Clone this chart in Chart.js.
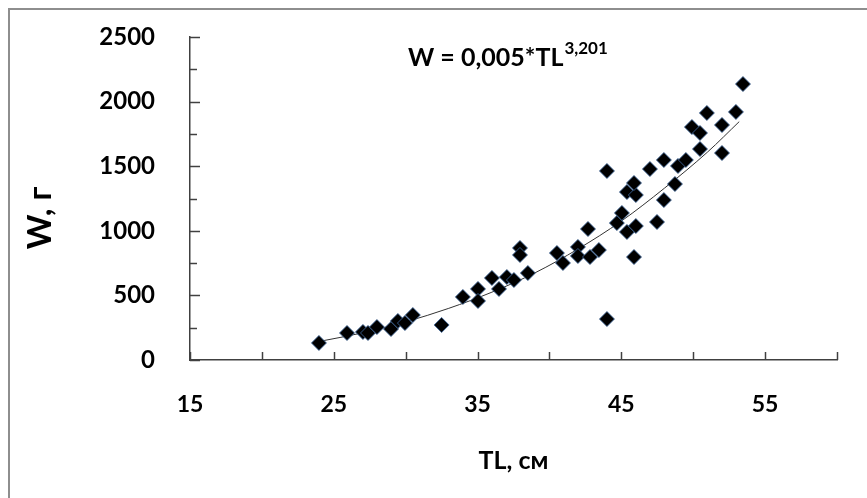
<!DOCTYPE html>
<html>
<head>
<meta charset="utf-8">
<script src="https://cdn.jsdelivr.net/npm/chart.js@4.4.1/dist/chart.umd.min.js"></script>
<style>
  html, body { margin: 0; padding: 0; background: #fff; }
  #wrap { position: relative; width: 867px; height: 498px; overflow: hidden; }
  #frame { position: absolute; left: 8px; top: 8px; width: 880px; height: 510px; border: 2px solid #8e8e8e; box-sizing: border-box; }
  #chart { position: absolute; left: 0; top: 0; }
</style>
</head>
<body>
<div id="wrap">
  <div id="frame"></div>
  <canvas id="chart" width="867" height="498"></canvas>
</div>
<script>
// ==================== DADOS ====================

// comprimento total TL (см) e massa W (г)
const tlValues = [
    23.97, 25.92, 27.03, 27.38, 28.0, 28.98, 29.46, 29.95, 30.5, 32.5,
    33.98, 35.03, 35.03, 36.0, 36.49, 37.04, 37.53, 37.95, 37.95, 38.5,
    40.52, 40.94, 41.98, 41.98, 42.68, 42.82, 43.44, 44.0, 44.0, 44.69,
    45.04, 45.39, 46.01, 45.88, 45.39, 46.01, 45.88, 46.99, 47.48, 47.96,
    47.96, 48.73, 48.94, 49.49, 49.91, 50.47, 50.47, 50.95, 52.0, 52.0,
    52.97, 53.46
];
const wValues = [
    132, 209, 217, 209, 255, 240, 302, 286, 348, 271,
    488, 550, 457, 635, 550, 642, 619, 867, 813, 673,
    828, 751, 875, 805, 1014, 797, 851, 1463, 317, 1060,
    1138, 991, 1037, 797, 1300, 1277, 1370, 1478, 1068, 1238,
    1548, 1362, 1502, 1548, 1803, 1757, 1633, 1912, 1819, 1602,
    1920, 2136
];

// linha de tendência (potência)
const trendTL = [24, 27, 30, 33, 36, 39, 42, 45, 48, 51, 53.2];
const trendW  = [144, 210, 295, 400, 525, 675, 860, 1075, 1330, 1610, 1845];

// eixos
const xMin = 15, xMax = 60, xStep = 5;
const xLabeled = [15, 25, 35, 45, 55];
const yMin = 0, yMax = 2500, yStep = 250;
const yLabeled = [0, 500, 1000, 1500, 2000, 2500];

const equationMain = 'W = 0,005*TL';
const equationPow = '3,201';
const xTitle = 'TL, см';
const yTitle = 'W, г';

const FONT = 'Lato, "Open Sans", sans-serif';

// ==================== PLUGIN: marcas e textos ====================

const extras = {
    id: 'extras',
    afterDraw(chart) {
        const ctx = chart.ctx;
        const xs = chart.scales.x;
        const ys = chart.scales.y;
        const area = chart.chartArea;

        ctx.save();
        ctx.strokeStyle = '#404040';
        ctx.lineWidth = 1.5;

        // marcas do eixo X (para dentro)
        xs.ticks.forEach(t => {
            const px = Math.round(xs.getPixelForValue(t.value)) + 0.5;
            ctx.beginPath();
            ctx.moveTo(px, area.bottom);
            ctx.lineTo(px, area.bottom - 8);
            ctx.stroke();
        });

        // marcas do eixo Y (principais e secundárias)
        ys.ticks.forEach(t => {
            const py = Math.round(ys.getPixelForValue(t.value)) + 0.5;
            const len = yLabeled.includes(t.value) ? 10 : 7;
            ctx.beginPath();
            ctx.moveTo(area.left, py);
            ctx.lineTo(area.left + len, py);
            ctx.stroke();
        });

        // título do eixo Y
        ctx.fillStyle = '#000';
        ctx.font = 'bold 33px ' + FONT;
        ctx.textAlign = 'center';
        ctx.textBaseline = 'middle';
        ctx.translate(40, 218);
        ctx.rotate(-Math.PI / 2);
        ctx.fillText(yTitle, 0, 0);
        ctx.setTransform(1, 0, 0, 1, 0, 0);

        // equação
        ctx.textAlign = 'left';
        ctx.textBaseline = 'alphabetic';
        ctx.font = 'bold 25px ' + FONT;
        ctx.fillText(equationMain, 408, 66);
        const w = ctx.measureText(equationMain).width;
        ctx.font = 'bold 17px ' + FONT;
        ctx.fillText(equationPow, 408 + w + 1, 54);

        ctx.restore();
    }
};

// ==================== GRÁFICO ====================

const pontos = tlValues.map((x, i) => ({ x: x, y: wValues[i] }));
const tendencia = trendTL.map((x, i) => ({ x: x, y: trendW[i] }));

new Chart(document.getElementById('chart'), {
    type: 'scatter',
    data: {
        datasets: [
            {
                label: 'W',
                data: pontos,
                pointStyle: 'rectRot',
                pointRadius: 7.5,
                pointHoverRadius: 7.5,
                backgroundColor: '#000',
                borderColor: 'rgba(60,100,150,0.85)',
                borderWidth: 1,
                order: 0
            },
            {
                label: 'trend',
                data: tendencia,
                showLine: true,
                pointRadius: 0,
                borderColor: '#333',
                borderWidth: 1,
                cubicInterpolationMode: 'monotone',
                fill: false,
                order: 1
            }
        ]
    },
    options: {
        responsive: false,
        animation: false,
        events: [],
        layout: { padding: { left: 0, top: 37, right: 30, bottom: 0 } },
        plugins: {
            legend: { display: false },
            tooltip: { enabled: false }
        },
        scales: {
            x: {
                type: 'linear',
                min: xMin,
                max: xMax,
                afterFit: s => {
                    s.height = 138;
                    s.paddingLeft = 0;
                    s.paddingRight = 0;
                },
                afterBuildTicks: s => {
                    const arr = [];
                    for (let v = xMin; v <= xMax; v += xStep) arr.push({ value: v });
                    s.ticks = arr;
                },
                grid: { display: false },
                border: { display: true, color: '#404040', width: 1.5 },
                ticks: {
                    padding: 23,
                    color: '#000',
                    font: { family: FONT, size: 23, weight: 'bold' },
                    maxRotation: 0,
                    autoSkip: false,
                    callback: v => xLabeled.includes(v) ? String(v) : ''
                },
                title: {
                    display: true,
                    text: xTitle,
                    color: '#000',
                    font: { family: FONT, size: 25, weight: 'bold' },
                    padding: { top: 0, bottom: 22 }
                }
            },
            y: {
                type: 'linear',
                min: yMin,
                max: yMax,
                afterFit: s => {
                    s.width = 190;
                    s.paddingTop = 0;
                    s.paddingBottom = 0;
                },
                grid: { display: false },
                border: { display: true, color: '#404040', width: 1.5 },
                ticks: {
                    stepSize: yStep,
                    padding: 27,
                    color: '#000',
                    font: { family: FONT, size: 24, weight: 'bold' },
                    autoSkip: false,
                    callback: v => yLabeled.includes(v) ? String(v) : ''
                }
            }
        }
    },
    plugins: [extras]
});
</script>
</body>
</html>
